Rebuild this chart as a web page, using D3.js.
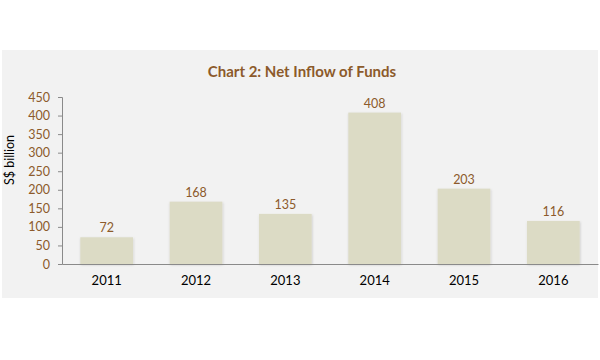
<!DOCTYPE html>
<html><head><meta charset="utf-8">
<script src="https://cdnjs.cloudflare.com/ajax/libs/d3/7.8.5/d3.min.js"></script>
<style>body{margin:0;background:#fff;}svg{display:block;font-family:Lato,"Open Sans",sans-serif;}</style>
</head><body>
<svg id="c" width="600" height="360"></svg>
<script>
const years = ["2011","2012","2013","2014","2015","2016"];
const inflow = [72,168,135,408,203,116];
const yTicks = [0,50,100,150,200,250,300,350,400,450];
const title = "Chart 2: Net Inflow of Funds";
const yTitle = "S$ billion";

const svg = d3.select("#c");
const brown = "#8c5a2b";
svg.append("rect").attr("x",2).attr("y",50).attr("width",596).attr("height",248).attr("fill","#f2f2f2");

const x = d3.scaleBand().domain(years).range([62,598]).paddingInner(0.41).paddingOuter(0.205);
const y = d3.scaleLinear().domain([0,450]).range([264,97]);

const defs = svg.append("defs");
const f = defs.append("filter").attr("id","sh").attr("x","-20%").attr("y","-20%").attr("width","140%").attr("height","140%");
f.append("feDropShadow").attr("dx",0.5).attr("dy",1).attr("stdDeviation",1.2).attr("flood-color","#000").attr("flood-opacity",0.18);

// y axis
const ya = svg.append("g").attr("transform","translate(62,0)")
  .call(d3.axisLeft(y).tickValues(yTicks).tickSize(4).tickPadding(8));
ya.select(".domain").attr("stroke","#8a8a8a");
ya.selectAll(".tick line").attr("stroke","#8a8a8a");
ya.selectAll(".tick text").attr("fill",brown).attr("font-size",12.5).attr("font-family","Lato,sans-serif");

// bars
svg.append("g").selectAll("rect").data(inflow).join("rect")
  .attr("x",(d,i)=>x(years[i])).attr("width",x.bandwidth())
  .attr("y",d=>y(d)).attr("height",d=>y(0)-y(d))
  .attr("fill","#dcdbc5").attr("filter","url(#sh)");

// x axis
const xa = svg.append("g").attr("transform","translate(0,264)")
  .call(d3.axisBottom(x).tickSize(0).tickPadding(12));
xa.select(".domain").attr("stroke","#8a8a8a");
xa.selectAll(".tick text").attr("fill","#000").attr("font-size",13).attr("font-family","Lato,sans-serif");

// value labels
svg.append("g").selectAll("text").data(inflow).join("text")
  .attr("x",(d,i)=>x(years[i])+x.bandwidth()/2).attr("y",d=>y(d)-5)
  .attr("text-anchor","middle").attr("fill",brown).attr("font-size",12.5).text(d=>d);

svg.append("text").attr("x",302).attr("y",77).attr("text-anchor","middle")
  .attr("fill",brown).attr("font-size",15).attr("font-weight","bold").text(title);

svg.append("text").attr("transform","translate(14,160) rotate(-90)").attr("text-anchor","middle")
  .attr("fill","#000").attr("font-size",12.5).text(yTitle);
</script>
</body></html>
